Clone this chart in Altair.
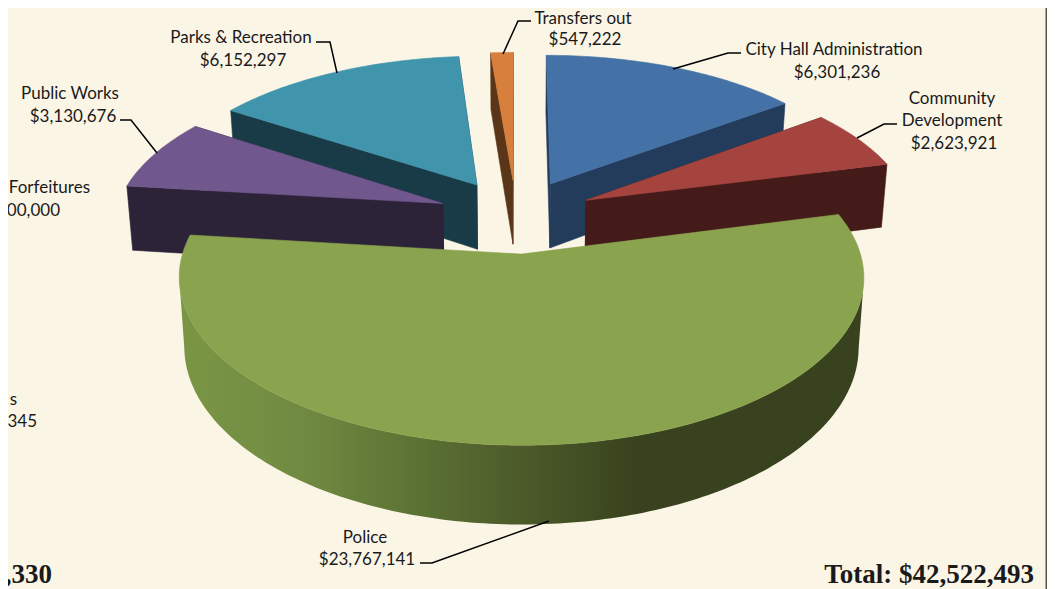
import math
import altair as alt
import pandas as pd

# ---- values (clockwise from 12 o'clock) ----
slice_names = ["City Hall Administration", "Community Development", "Police",
               "Public Works", "Parks & Recreation", "Transfers out"]
slice_values = [6301236, 2623921, 23767141, 3130676, 6152297, 547222]
top_colors = ["#4472a6", "#a5443f", "#89a34e", "#70588f", "#4095ad", "#d77f3c"]
side_colors = ["#243c5c", "#451b19", "#38421e", "#2d2338", "#193b47", "#5a3518"]
paint_order = [5, 4, 3, 0, 1, 2]

label_text = ["Parks & Recreation", "$6,152,297", "Public Works", "$3,130,676",
              "Transfers out", "$547,222", "City Hall Administration", "$6,301,236",
              "Community", "Development", "$2,623,921", "Police", "$23,767,141"]
label_x = [241, 243, 70, 73, 583, 585, 834, 837, 952, 952, 954, 365, 367]
label_y = [38, 61, 94, 117, 19, 40, 50, 73, 99, 121, 144, 538, 560]

cut_text = ["Forfeitures", "00,000", "s", "345"]
cut_x = [90, 60, 17, 37]
cut_y = [188, 211, 400, 422]

total_text = [",330", "Total: $42,522,493"]
total_x = [52, 1034]
total_y = [575, 575]

leaders = [
    [(673, 69), (728, 53), (741, 53)],
    [(857, 138), (884, 124), (897, 124)],
    [(503, 54), (518, 21), (531, 21)],
    [(337, 73), (330, 42), (316, 42)],
    [(157, 153), (131, 120), (120, 120)],
    [(549, 521), (432, 563), (420, 563)],
]

# ---- view of the tilted, exploded pie ----
CX, CY, A, B, K, E, H, Q = 516, 216, 328, 154, 0.135, 0.24, 66, 0.015
W, HT = 1039, 581
xs = alt.Scale(domain=[8, 1047], range=[0, W])
ys = alt.Scale(domain=[8, 589], range=[0, HT])


def proj(px, py, z=0.0):
    w = 1 + K * py
    return CX + A * px / w * (1 - Q * z), CY + (-B * py + H * z) / w


def polar(deg):
    r = math.radians(deg)
    return math.sin(r), math.cos(r)


def frame(pts):
    return pd.DataFrame({"x": [p[0] for p in pts], "y": [p[1] for p in pts],
                         "i": list(range(len(pts)))})


def poly(pts, fill, stroke=None):
    return alt.Chart(frame(pts)).mark_line(
        fill=fill, stroke=stroke or (fill if isinstance(fill, str) else "#5a6f30"),
        strokeWidth=0.6 if stroke or isinstance(fill, str) else 0,
        interpolate="linear-closed",
    ).encode(x=alt.X("x:Q", scale=xs, axis=None),
             y=alt.Y("y:Q", scale=ys, axis=None),
             order=alt.Order("i:Q"))


total = sum(slice_values)
spans = []
run = 0.0
for v in slice_values:
    d = v / total * 360
    spans.append((run, run + d))
    run += d

green_wall = alt.LinearGradient(
    gradient="linear", x1=0, x2=1, y1=0, y2=0,
    stops=[alt.GradientStop(offset=0, color="#7a9644"),
           alt.GradientStop(offset=0.18, color="#718a42"),
           alt.GradientStop(offset=0.32, color="#5f7636"),
           alt.GradientStop(offset=0.47, color="#4f5f2b"),
           alt.GradientStop(offset=0.67, color="#38421e"),
           alt.GradientStop(offset=1, color="#38421e")])

layers = []
bg = "#fbf5e6"
for idx in paint_order:
    a0, a1 = spans[idx]
    mx, my = polar((a0 + a1) / 2)
    ox, oy = mx * E, my * E
    n = max(3, int(a1 - a0))
    rim = [(ox + polar(a0 + (a1 - a0) * t / n)[0], oy + polar(a0 + (a1 - a0) * t / n)[1])
           for t in range(n + 1)]
    top = [proj(ox, oy)] + [proj(*p) for p in rim]
    if idx == 2:
        # only the part of the outer wall between the two silhouette extremes
        sx = [proj(*p)[0] for p in rim]
        i0, i1 = sx.index(max(sx)), sx.index(min(sx))
        vis = rim[i0:i1 + 1]
        layers.append(poly([proj(*p) for p in vis] +
                           [proj(p[0], p[1], 1) for p in reversed(vis)], green_wall))
    else:
        for p in (rim[0], rim[-1]):
            layers.append(poly([proj(ox, oy), proj(*p), proj(p[0], p[1], 1), proj(ox, oy, 1)],
                               side_colors[idx]))
    layers.append(poly(top, top_colors[idx]))

for i, seg in enumerate(leaders):
    layers.append(alt.Chart(frame(seg)).mark_line(color="#000000", strokeWidth=1.5).encode(
        x=alt.X("x:Q", scale=xs, axis=None), y=alt.Y("y:Q", scale=ys, axis=None),
        order=alt.Order("i:Q")))


def text_layer(texts, tx, ty, align, font, size, weight="normal"):
    return alt.Chart(pd.DataFrame({"t": texts, "x": tx, "y": ty})).mark_text(
        align=align, baseline="middle", font=font, fontSize=size, fontWeight=weight,
        color="#1a1a1a").encode(
        x=alt.X("x:Q", scale=xs, axis=None), y=alt.Y("y:Q", scale=ys, axis=None), text="t:N")


layers.append(text_layer(label_text, label_x, label_y, "center", "Lato", 17))
layers.append(text_layer(cut_text, cut_x, cut_y, "right", "Lato", 17))
layers.append(text_layer(total_text, total_x, total_y, "right", "Liberation Serif", 27, "bold"))

edge = pd.DataFrame({"a": [1045.5], "b": [1047], "y0": [8], "y1": [589]})
layers.append(alt.Chart(edge).mark_rect(color="#55524c").encode(
    x=alt.X("a:Q", scale=xs, axis=None), x2="b:Q",
    y=alt.Y("y0:Q", scale=ys, axis=None), y2="y1:Q"))

chart = alt.layer(*layers).properties(
    width=W, height=HT, padding=0, background=bg,
    autosize=alt.AutoSizeParams(type="none"),
).configure_view(stroke=None)

chart.save("out.html", embed_options={"renderer": "svg", "actions": False})
